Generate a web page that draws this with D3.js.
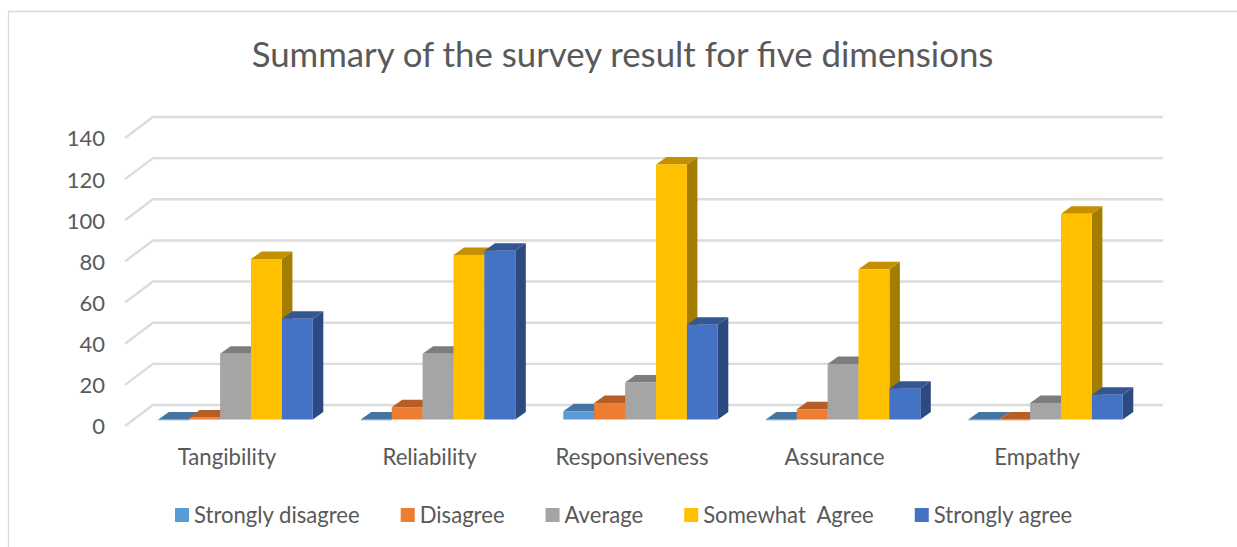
<!DOCTYPE html>
<html>
<head>
<meta charset="utf-8">
<script src="https://cdn.jsdelivr.net/npm/d3@7"></script>
<style>
html,body{margin:0;padding:0;background:#fff;overflow:hidden}
text{font-family:Lato,"Open Sans",sans-serif;fill:#595959;white-space:pre}
</style>
</head>
<body>
<svg id="chart" width="1237" height="547"></svg>
<script>
const titleText = "Summary of the survey result for five dimensions";
const categories = ["Tangibility","Reliability","Responsiveness","Assurance","Empathy"];
const seriesNames = ["Strongly disagree","Disagree","Average","Somewhat  Agree","Strongly agree"];
const stronglyDisagree = [0,0,4,0,0];
const disagree = [1,6,8,5,0];
const average = [32,32,18,27,8];
const somewhatAgree = [78,80,124,73,100];
const stronglyAgree = [49,82,46,15,12];
const seriesValues = [stronglyDisagree,disagree,average,somewhatAgree,stronglyAgree];
const colors = ["#5B9BD5","#ED7D31","#A5A5A5","#FFC000","#4472C4"];
const tickValues = [0,20,40,60,80,100,120,140];

const svg = d3.select("#chart");
const backZero = 405, backTop = 117;
const wallDx = 28, wallDy = 21;
const wallLeft = 153, wallRight = 1163;
const barBase = 419.5, depthX = 10.5, depthY = 7.5;

const h = d3.scaleLinear().domain([0,140]).range([0, backZero-backTop]);
const x0 = d3.scaleBand().domain(categories).range([134.3,1146.8]).paddingInner(0).paddingOuter(0);
const barW = 30.9;
const x1 = d3.scaleBand().domain(d3.range(seriesNames.length)).range([0,barW*seriesNames.length]);
const groupOffset = (x0.bandwidth()-x1.range()[1])/2;

// frame
svg.append("path").attr("d","M8.5,547V11.5H1237").attr("fill","none").attr("stroke","#d9d9d9").attr("stroke-width",1.3);

// title
svg.append("text").attr("x",622.5).attr("y",67).attr("text-anchor","middle")
  .style("font-size","34.8px").text(titleText);

// gridlines
const grid = svg.append("g").attr("fill","none").attr("stroke","#dcdcdc").attr("stroke-width",2.4);
tickValues.forEach(v=>{
  const y = backZero-h(v);
  grid.append("path").attr("d",`M${wallLeft-wallDx},${y+wallDy}L${wallLeft},${y}H${wallRight}`);
});

// value axis labels
const yAxisScale = d3.scaleLinear().domain([0,140]).range([backZero+wallDy,backTop+wallDy]);
const yAxis = d3.axisLeft(yAxisScale).tickValues(tickValues).tickSize(0).tickPadding(0);
const yG = svg.append("g").attr("transform","translate(105,0)").call(yAxis);
yG.select(".domain").remove();
yG.selectAll("text").style("font-size","22px").attr("dy","0.36em");

// bars
const topColor = c=>{const r=d3.rgb(c);return d3.rgb(r.r*.77,r.g*.75,r.b*.75).formatHex();};
const sideColor = c=>{const r=d3.rgb(c);return d3.rgb(r.r*.64,r.g*.65,r.b*.65).formatHex();};
const barsData=[];
categories.forEach((cat,i)=>seriesValues.forEach((vals,s)=>barsData.push({cat,s,v:vals[i]})));
const bars = svg.append("g").selectAll("g").data(barsData).join("g");
const X = d=>x0(d.cat)+groupOffset+x1(d.s);
bars.append("polygon").attr("fill",d=>sideColor(colors[d.s]))
  .attr("points",d=>{const x=X(d)+barW,y=barBase-h(d.v);
    return [[x,barBase],[x+depthX,barBase-depthY],[x+depthX,y-depthY],[x,y]].join(" ");});
bars.append("polygon").attr("fill",d=>topColor(colors[d.s]))
  .attr("points",d=>{const x=X(d),y=barBase-h(d.v);
    return [[x,y],[x+depthX,y-depthY],[x+barW+depthX,y-depthY],[x+barW,y]].join(" ");});
bars.append("rect").attr("fill",d=>colors[d.s])
  .attr("x",X).attr("width",barW)
  .attr("y",d=>barBase-h(d.v)).attr("height",d=>Math.max(h(d.v),0.8));

// category labels
const catLabelShift = -8.5;
svg.append("g").selectAll("text").data(categories).join("text")
  .attr("x",d=>x0(d)+x0.bandwidth()/2+catLabelShift).attr("y",465).attr("text-anchor","middle")
  .style("font-size","22.2px").text(d=>d);

// legend
let lx=175;
const legend = svg.append("g");
seriesNames.forEach((n,i)=>{
  legend.append("rect").attr("x",lx).attr("y",508).attr("width",14).attr("height",14).attr("fill",colors[i]);
  const t=legend.append("text").attr("x",lx+19).attr("y",523).style("font-size","22.1px").text(n);
  lx+=19+t.node().getComputedTextLength()+41;
});
</script>
</body>
</html>
